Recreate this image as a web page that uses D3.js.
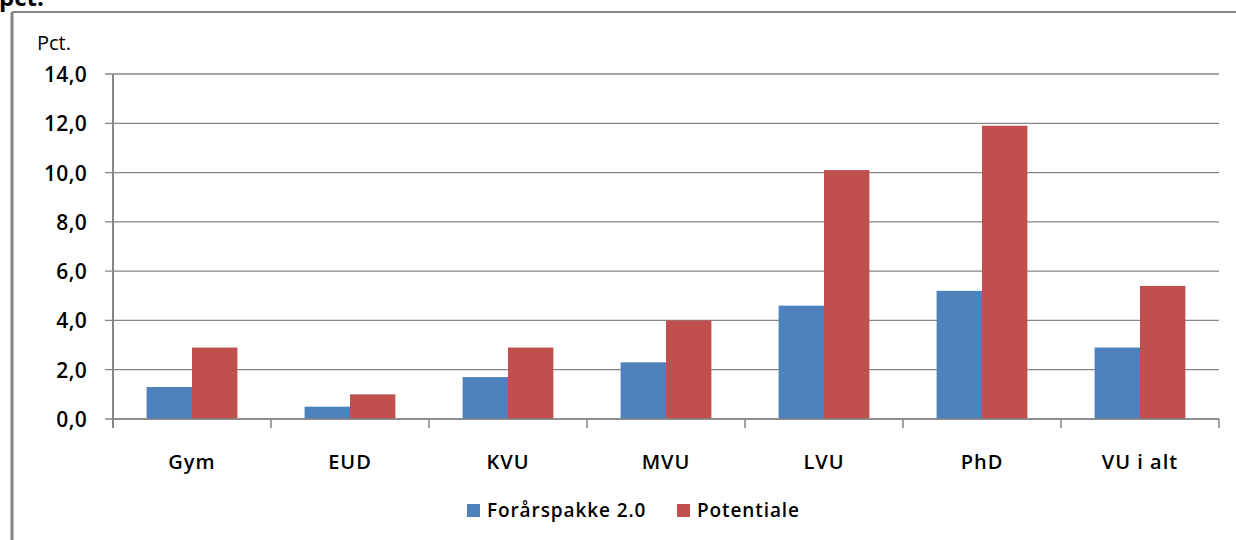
<!DOCTYPE html>
<html>
<head>
<meta charset="utf-8">
<script src="https://cdn.jsdelivr.net/npm/d3@7"></script>
<style>
  body { margin: 0; background: #fff; }
  svg { display: block; font-family: "Open Sans", Lato, sans-serif; font-weight: 600; }
</style>
</head>
<body>
<div id="container"></div>
<script>

// chart data
var categories = ["Gym", "EUD", "KVU", "MVU", "LVU", "PhD", "VU i alt"];
var series_names = ["Forårspakke 2.0", "Potentiale"];
var forarspakke = [1.3, 0.5, 1.7, 2.3, 4.6, 5.2, 2.9];
var potentiale = [2.9, 1.0, 2.9, 4.0, 10.1, 11.9, 5.4];
var y_ticks = [0, 2, 4, 6, 8, 10, 12, 14];
var colors = ["#4f81bd", "#c0504d"];

function drawit() {
	var width = 1236, height = 540;
	var svg = d3.select("#container")
		.append("svg")
		.attr("width", width)
		.attr("height", height);

	var left = 113, right = 1219, top = 74, bottom = 419;
	var grey = "#868686";

	// outer frame (only top and left visible)
	svg.append("line").attr("x1", 12).attr("x2", width).attr("y1", 12).attr("y2", 12)
		.attr("stroke", grey).attr("stroke-width", 2);
	svg.append("line").attr("x1", 12).attr("x2", 12).attr("y1", 12).attr("y2", height)
		.attr("stroke", grey).attr("stroke-width", 3);

	// title, cut off at the top like in the original
	svg.append("text").attr("x", -1).attr("y", 6).attr("font-size", 24)
		.attr("font-weight", "bold").attr("fill", "#000").text("pct.");

	var x0 = d3.scaleBand().domain(categories).range([left, right]).padding(0);
	var x1 = d3.scaleBand().domain(series_names).range([0, x0.bandwidth()])
		.paddingInner(0).paddingOuter(0.74);
	var y = d3.scaleLinear().domain([0, 14]).range([bottom, top]);

	// grid
	svg.append("g").selectAll("line")
		.data(y_ticks)
		.enter()
		.append("line")
		.attr("x1", left - 8)
		.attr("x2", right)
		.attr("y1", function(d) { return y(d); })
		.attr("y2", function(d) { return y(d); })
		.attr("stroke", grey)
		.attr("stroke-width", 1.3);

	// y labels
	svg.append("g").selectAll("text")
		.data(y_ticks)
		.enter()
		.append("text")
		.attr("x", 87)
		.attr("y", function(d) { return y(d) + 8; })
		.attr("text-anchor", "end")
		.attr("font-size", 21)
		.attr("letter-spacing", 0.3)
		.attr("fill", "#000")
		.text(function(d) { return d3.format(".1f")(d).replace(".", ","); });

	svg.append("text").attr("x", 37).attr("y", 50).attr("font-size", 20)
		.attr("font-weight", "normal").attr("fill", "#000").text("Pct.");

	// bars
	var data = [forarspakke, potentiale];
	var groups = svg.append("g").selectAll("g")
		.data(categories)
		.enter()
		.append("g")
		.attr("transform", function(d) { return "translate(" + x0(d) + ",0)"; });
	groups.selectAll("rect")
		.data(function(d, i) {
			return series_names.map(function(s, j) { return {s: s, v: data[j][i], j: j}; });
		})
		.enter()
		.append("rect")
		.attr("x", function(d) { return x1(d.s); })
		.attr("width", x1.bandwidth())
		.attr("y", function(d) { return y(d.v); })
		.attr("height", function(d) { return bottom - y(d.v); })
		.attr("fill", function(d) { return colors[d.j]; });

	// axes lines
	svg.append("line").attr("x1", left).attr("x2", left).attr("y1", top).attr("y2", bottom + 9)
		.attr("stroke", grey).attr("stroke-width", 2);
	svg.append("line").attr("x1", left).attr("x2", right).attr("y1", bottom).attr("y2", bottom)
		.attr("stroke", grey).attr("stroke-width", 1.5);
	var bounds = categories.map(function(c) { return x0(c); }).concat([right]);
	svg.append("g").selectAll("line")
		.data(bounds)
		.enter()
		.append("line")
		.attr("x1", function(d) { return d; })
		.attr("x2", function(d) { return d; })
		.attr("y1", bottom)
		.attr("y2", bottom + 9)
		.attr("stroke", grey)
		.attr("stroke-width", 1.5);

	// category labels
	svg.append("g").selectAll("text")
		.data(categories)
		.enter()
		.append("text")
		.attr("x", function(d) { return x0(d) + x0.bandwidth() / 2; })
		.attr("y", 469)
		.attr("text-anchor", "middle")
		.attr("font-size", 20)
		.attr("letter-spacing", 1)
		.attr("fill", "#000")
		.text(function(d) { return d; });

	// legend
	var legend_x = [467, 677];
	var legend = svg.append("g").selectAll("g")
		.data(series_names)
		.enter()
		.append("g")
		.attr("transform", function(d, i) { return "translate(" + legend_x[i] + ",504)"; });
	legend.append("rect").attr("width", 13).attr("height", 13)
		.attr("fill", function(d, i) { return colors[i]; });
	legend.append("text").attr("x", 20).attr("y", 13).attr("font-size", 19)
		.attr("letter-spacing", 0.9)
		.attr("fill", "#000").text(function(d) { return d; });
};

drawit();

</script>
</body>
</html>
